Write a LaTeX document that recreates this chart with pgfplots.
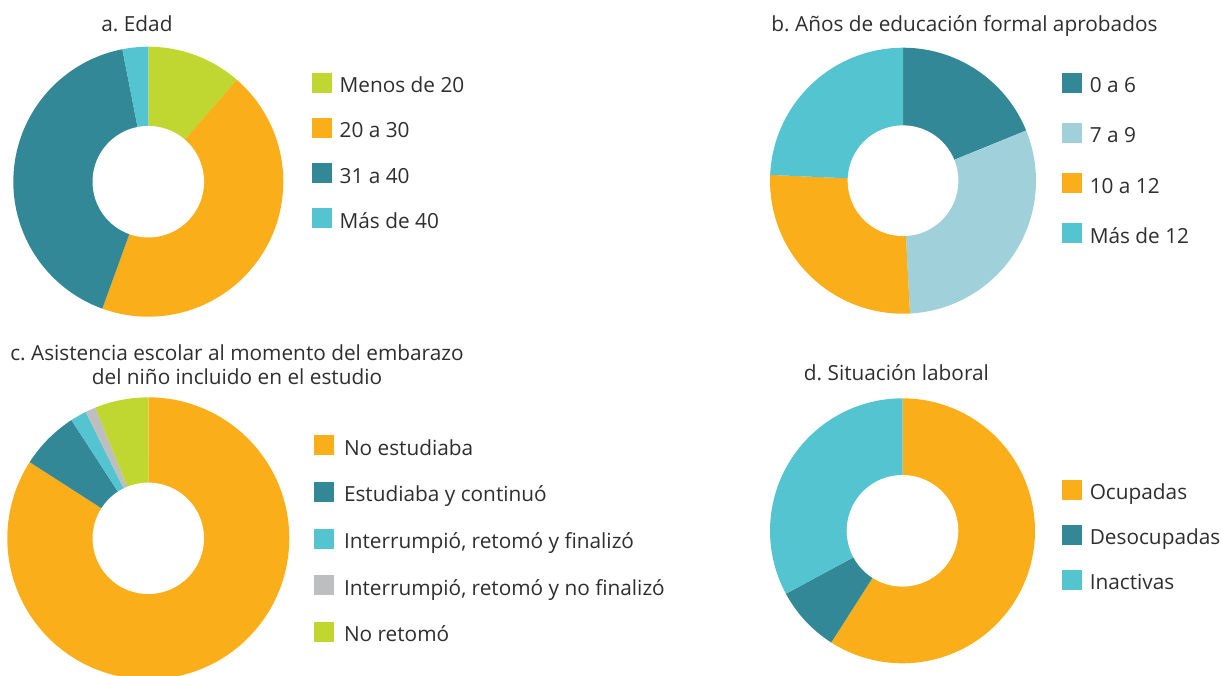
\documentclass[border=0pt]{standalone}
\usepackage{pgfplots}
\usepackage{pgfplotstable}
\pgfplotsset{compat=1.18}
\usepackage{fontspec}
\setmainfont{Open Sans}
\frenchspacing

\definecolor{cgreen}{HTML}{BFD730}
\definecolor{corange}{HTML}{F9AE1A}
\definecolor{cteal}{HTML}{328896}
\definecolor{ccyan}{HTML}{54C4D1}
\definecolor{clight}{HTML}{A0D1DB}
\definecolor{cgray}{HTML}{BCBEC0}
\definecolor{textgray}{HTML}{2E2E2E}

% shares in percent, clockwise from 12 o'clock
\pgfplotstableread[col sep=semicolon]{
label;value;color
Menos de 20;11.38;cgreen
20 a 30;44.15;corange
31 a 40;41.39;cteal
Más de 40;3.08;ccyan
}\tabA
\pgfplotstableread[col sep=semicolon]{
label;value;color
0 a 6;18.84;cteal
7 a 9;30.32;clight
10 a 12;26.53;corange
Más de 12;24.31;ccyan
}\tabB
\pgfplotstableread[col sep=semicolon]{
label;value;color
No estudiaba;84.09;corange
Estudiaba y continuó;6.73;cteal
Interrumpió, retomó y finalizó;1.86;ccyan
Interrumpió, retomó y no finalizó;1.18;cgray
No retomó;6.13;cgreen
}\tabC
\pgfplotstableread[col sep=semicolon]{
label;value;color
Ocupadas;59.04;corange
Desocupadas;8.08;cteal
Inactivas;32.88;ccyan
}\tabD

% #1 table, #2 hole radius (fraction of outer radius)
\newcommand\donut[2]{%
  \pgfplotstablegetrowsof{#1}%
  \pgfmathtruncatemacro\lastrow{\pgfplotsretval-1}%
  \def\cum{0}%
  \pgfplotsforeachungrouped \i in {0,...,\lastrow}{%
    \pgfplotstablegetelem{\i}{value}\of{#1}\let\val\pgfplotsretval
    \pgfplotstablegetelem{\i}{color}\of{#1}\let\col\pgfplotsretval
    \pgfplotstablegetelem{\i}{label}\of{#1}\let\lab\pgfplotsretval
    \pgfmathsetmacro\angA{90-3.6*\cum}%
    \pgfmathsetmacro\cum{\cum+\val}%
    \pgfmathsetmacro\angB{90-3.6*\cum}%
    \pgfmathtruncatemacro\ns{max(4,(\angA-\angB)/2+2)}%
    \edef\temp{\noexpand\addplot[fill=\col, draw=none, domain=\angB:\angA, samples=\ns]
      ({cos(x)}, {sin(x)}) -- (axis cs:0,0) -- cycle;
      \noexpand\addlegendentry{\lab}}%
    \temp
  }%
  \addplot[fill=white, draw=none, domain=0:360, samples=120, forget plot]
    ({#2*cos(x)}, {#2*sin(x)}) -- cycle;
}

\pgfplotsset{
  donut/.style={
    hide axis, scale only axis, clip=false,
    xmin=-1, xmax=1, ymin=-1, ymax=1,
    anchor=center,
    every axis title/.style={font=\fontsize{10.4}{12.15}\selectfont,
      text=textgray, inner sep=0pt, anchor=base},
    legend image code/.code={\path[##1] (0pt,0pt) rectangle (10pt,10pt);},
    every axis legend/.style={draw=none, fill=none, inner sep=0pt, outer sep=0pt,
      anchor=north west, font=\fontsize{10.4}{12}\selectfont, column sep=4pt,
      nodes={inner sep=0pt, text height=7.5pt, text depth=2.5pt, text=textgray},
      cells={anchor=base west}},
  },
}

\begin{document}
\begin{tikzpicture}
\useasboundingbox (0,0) rectangle (610.5pt,-337.5pt);

\begin{axis}[donut, width=135pt, height=135pt, at={(74.15pt,-90.85pt)},
  title={a. Edad}, title style={at={(0.458,1.058)}},
  legend style={at={(1.105,0.904)}, row sep=10.1pt}]
\donut{\tabA}{0.413}
\end{axis}

\begin{axis}[donut, width=133pt, height=133pt, at={(451.5pt,-90.35pt)},
  title={b. Años de educación formal aprobados}, title style={at={(0.731,1.060)}},
  legend style={at={(1.097,0.906)}, row sep=12.6pt}]
\donut{\tabB}{0.416}
\end{axis}

\begin{axis}[donut, width=141pt, height=141pt, at={(74.15pt,-269.15pt)},
  title={c. Asistencia escolar al momento del embarazo\\del niño incluido en el estudio},
  title style={at={(0.8145,1.0436)}, anchor=south, align=center},
  legend style={at={(1.0876,0.866)}, row sep=10.85pt, column sep=5pt}]
\donut{\tabC}{0.395}
\end{axis}

\begin{axis}[donut, width=132.5pt, height=132.5pt, at={(451.25pt,-265.4pt)},
  title={d. Situación laboral}, title style={at={(0.477,1.069)}},
  legend style={at={(1.101,0.692)}, row sep=9.9pt}]
\donut{\tabD}{0.421}
\end{axis}
\end{tikzpicture}
\end{document}
